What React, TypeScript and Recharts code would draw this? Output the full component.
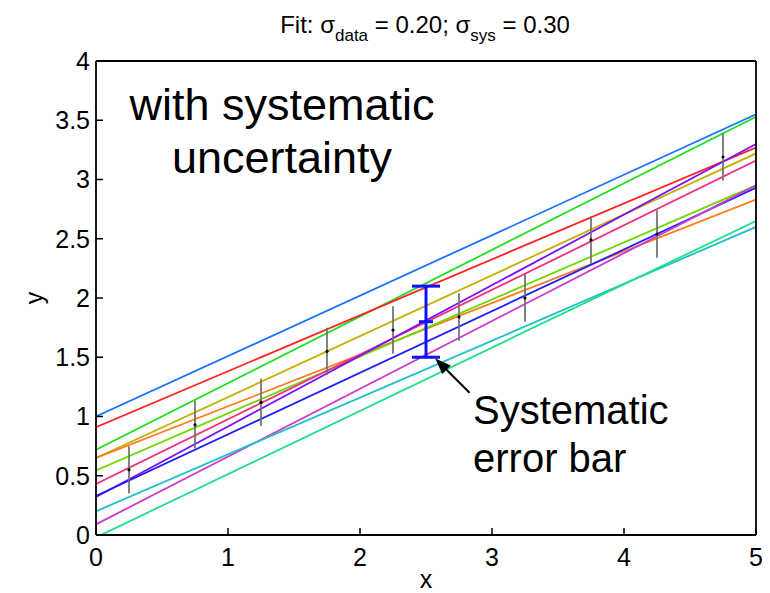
import React from 'react';
import {
  ComposedChart, Line, Scatter, ErrorBar, XAxis, YAxis, ReferenceLine
} from 'recharts';

// measured points with their statistical error
const pointX = [0.25, 0.75, 1.25, 1.75, 2.25, 2.75, 3.25, 3.75, 4.25, 4.75];
const pointY = [0.55, 0.93, 1.12, 1.55, 1.73, 1.84, 2.0, 2.49, 2.54, 3.19];
const sigmaData = 0.2;

// systematic shift shown at the middle of the range
const sysX = 2.5;
const sysY = 1.8;
const sigmaSys = 0.3;

// family of fitted lines: value at x = 0 and at x = 5
const fitColors = [
  '#1a73ff', '#22dd22', '#ff2222', '#c4b000', '#ff7a1a', '#70d800',
  '#f2307c', '#7a10ff', '#1e1eff', '#cc3ccc', '#1fc0cc', '#1ede88'
];
const fitStart = [1.0, 0.72, 0.91, 0.65, 0.65, 0.545, 0.43, 0.32, 0.33, 0.09, 0.2, -0.02];
const fitEnd = [3.55, 3.53, 3.27, 3.22, 2.83, 2.95, 3.16, 3.3, 2.93, 2.95, 2.6, 2.65];

const xTicks = [0, 1, 2, 3, 4, 5];
const yTicks = [0, 0.5, 1, 1.5, 2, 2.5, 3, 3.5, 4];

// arrow from the caption to the systematic bar
const arrowTail = { x: 2.83, y: 1.2 };
const arrowHead = { x: 2.57, y: 1.49 };

const FONT = '"Liberation Sans", Arial, sans-serif';

const points = pointX.map((x, i) => ({ x, y: pointY[i], err: sigmaData }));
const sysPoint = [{ x: sysX, y: sysY, err: sigmaSys }];
const fits = fitColors.map((color, i) => ({
  color,
  data: [{ x: 0, y: fitStart[i] }, { x: 5, y: fitEnd[i] }]
}));

const Dot = (props: any) => <circle cx={props.cx} cy={props.cy} r={1.6} fill="#000" />;

const SysMark = (props: any) => (
  <line x1={props.cx - 7} x2={props.cx + 7} y1={props.cy} y2={props.cy} stroke="#1010ff" strokeWidth={3} />
);

const Arrow = (props: any) => {
  const { x1, y1, x2, y2 } = props;
  const ang = Math.atan2(y2 - y1, x2 - x1);
  const len = 16;
  const half = 6;
  const bx = x2 - len * Math.cos(ang);
  const by = y2 - len * Math.sin(ang);
  const px = -Math.sin(ang) * half;
  const py = Math.cos(ang) * half;
  return (
    <g>
      <line x1={x1} y1={y1} x2={bx} y2={by} stroke="#000" strokeWidth={2} />
      <polygon points={`${x2},${y2} ${bx + px},${by + py} ${bx - px},${by - py}`} fill="#000" />
    </g>
  );
};

const tickStyle = { fill: '#000', fontSize: 25, fontFamily: FONT };
const axisLine = { stroke: '#000', strokeWidth: 1.8 };
const tickLine = { stroke: '#000', strokeWidth: 1.5 };

export default function App() {
  return (
    <div style={{ position: 'relative', width: 762, height: 585 }}>
      <ComposedChart
        width={762}
        height={585}
        margin={{ top: 43, right: 4, bottom: 18, left: 28 }}
      >
        <XAxis xAxisId="b" type="number" dataKey="x" domain={[0, 5]} ticks={xTicks}
          orientation="bottom" height={40} tickSize={-7} tickMargin={20}
          axisLine={axisLine} tickLine={tickLine} tick={tickStyle} allowDataOverflow />
        <XAxis xAxisId="t" type="number" dataKey="x" domain={[0, 5]} ticks={xTicks}
          orientation="top" height={10} tickSize={-7} tickFormatter={() => ''}
          axisLine={axisLine} tickLine={tickLine} />
        <YAxis yAxisId="l" type="number" dataKey="y" domain={[0, 4]} ticks={yTicks}
          orientation="left" width={60} tickSize={-7} tickMargin={13}
          axisLine={axisLine} tickLine={tickLine} tick={tickStyle} allowDataOverflow />
        <YAxis yAxisId="r" type="number" dataKey="y" domain={[0, 4]} ticks={yTicks}
          orientation="right" width={10} tickSize={-7} tickFormatter={() => ''}
          axisLine={axisLine} tickLine={tickLine} />

        {fits.map((f, i) => (
          <Line key={i} xAxisId="b" yAxisId="l" data={f.data} dataKey="y" type="linear"
            stroke={f.color} strokeWidth={1.8} dot={false} activeDot={false}
            isAnimationActive={false} />
        ))}

        <Scatter xAxisId="b" yAxisId="l" data={points} dataKey="y" shape={<Dot />}
          isAnimationActive={false}>
          <ErrorBar dataKey="err" direction="y" width={0} stroke="#6f6f6f" strokeWidth={2} strokeOpacity={0.85} />
        </Scatter>

        <Scatter xAxisId="b" yAxisId="l" data={sysPoint} dataKey="y" shape={<SysMark />}
          isAnimationActive={false}>
          <ErrorBar dataKey="err" direction="y" width={14} stroke="#1010ff" strokeWidth={3} />
        </Scatter>

        <ReferenceLine xAxisId="b" yAxisId="l" segment={[arrowTail, arrowHead]}
          shape={Arrow} ifOverflow="visible" />
      </ComposedChart>

      <svg width={762} height={585}
        style={{ position: 'absolute', left: 0, top: 0, pointerEvents: 'none' }}
        fontFamily={FONT}>
        <text x={417} y={25} textAnchor="middle" fontSize={24} fill="#000">
          Fit: σ<tspan dy={8} fontSize={17}>data</tspan>
          <tspan dy={-8}> = 0.20; σ</tspan>
          <tspan dy={8} fontSize={17}>sys</tspan>
          <tspan dy={-8}> = 0.30</tspan>
        </text>
        <text x={274} y={112} textAnchor="middle" fontSize={45} fill="#000">with systematic</text>
        <text x={274} y={165} textAnchor="middle" fontSize={45} fill="#000">uncertainty</text>
        <text x={465} y={416} fontSize={40} fill="#000">Systematic</text>
        <text x={465} y={464} fontSize={40} fill="#000">error bar</text>
        <text x={418} y={580} textAnchor="middle" fontSize={25} fill="#000">x</text>
        <text x={0} y={0} textAnchor="middle" fontSize={25} fill="#000"
          transform="translate(35,290) rotate(-90)">y</text>
      </svg>
    </div>
  );
}
